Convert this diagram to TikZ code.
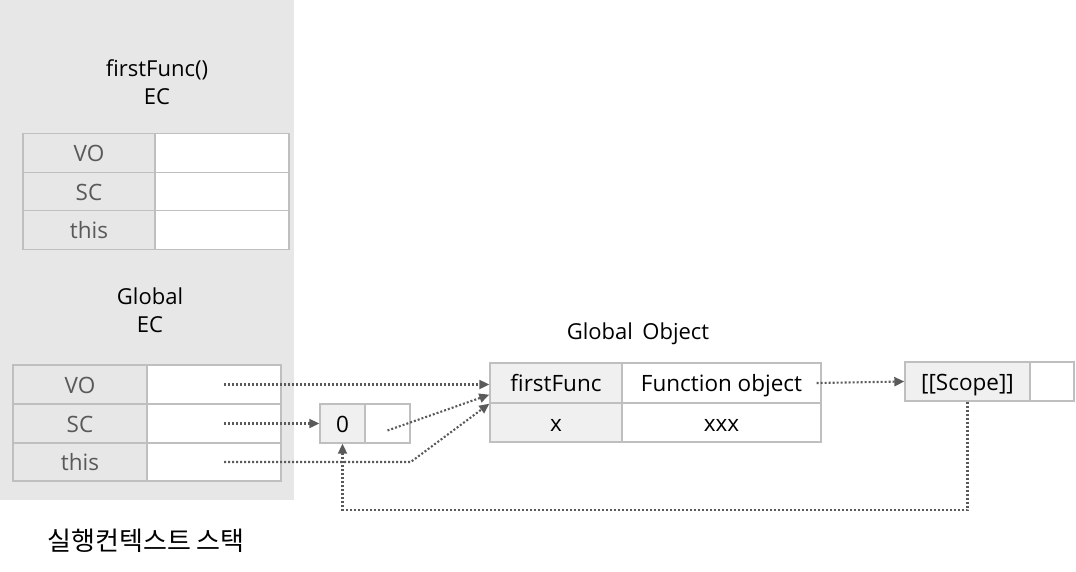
\documentclass[tikz,border=0pt]{standalone}
\usepackage{fontspec}
\setmainfont{Open Sans}
\newfontfamily\krfont{Noto Sans CJK KR}
\usetikzlibrary{arrows.meta}
\definecolor{bggray}{HTML}{E7E7E7}
\definecolor{lightcell}{HTML}{F0F0F0}
\definecolor{cellborder}{HTML}{BFBFBF}
\definecolor{labelgray}{HTML}{595959}
\definecolor{arrowgray}{HTML}{5A5A5A}
\begin{document}
\begin{tikzpicture}[x=1pt,y=-1pt,
  cell/.style={draw=cellborder, line width=1.4pt, inner sep=0pt, text height=19pt, text depth=2pt,
    font=\fontsize{22.5}{26}\selectfont},
  ecl/.style={cell, fill=bggray, text=labelgray},
  ecr/.style={cell, fill=white},
  gol/.style={cell, fill=lightcell, text=black},
  gor/.style={cell, fill=white, text=black},
  title/.style={align=center, font=\fontsize{22}{28}\selectfont, text=black, inner sep=0pt},
  ptr/.style={draw=arrowgray, line width=2.1pt, dash pattern=on 2pt off 2pt,
    -{Triangle[length=10pt,width=9pt,fill=arrowgray]}}
]
\useasboundingbox (0,0) rectangle (1076,571);
\fill[bggray] (0,0) rectangle (294,500);

% firstFunc EC
\node[title] (fftitle) at (157,82) {firstFunc()\\EC};
\node[ecl, minimum width=132pt, minimum height=38.5pt] (fVOl) at (89,153) {VO};
\node[ecr, minimum width=134pt, minimum height=38.5pt] (fVOv) at (222,153) {};
\node[ecl, minimum width=132pt, minimum height=38.5pt] (fSCl) at (89,191.5) {SC};
\node[ecr, minimum width=134pt, minimum height=38.5pt] (fSCv) at (222,191.5) {};
\node[ecl, minimum width=132pt, minimum height=38.5pt] (fthl) at (89,230) {this};
\node[ecr, minimum width=134pt, minimum height=38.5pt] (fthv) at (222,230) {};

% Global EC
\node[title] (gtitle) at (150,310.5) {Global\\EC};
\node[ecl, minimum width=134pt, minimum height=39pt] (gVOl) at (80,384.5) {VO};
\node[ecr, minimum width=134pt, minimum height=39pt] (gVOv) at (214,384.5) {};
\node[ecl, minimum width=134pt, minimum height=39pt] (gSCl) at (80,423.5) {SC};
\node[ecr, minimum width=134pt, minimum height=39pt] (gSCv) at (214,423.5) {};
\node[ecl, minimum width=134pt, minimum height=38pt] (gthl) at (80,462) {this};
\node[ecr, minimum width=134pt, minimum height=38pt] (gthv) at (214,462) {};

% scope chain list
\node[gol, minimum width=45pt, minimum height=39pt] (zl) at (342.5,423.5) {0};
\node[gor, minimum width=45pt, minimum height=39pt] (zr) at (387.5,423.5) {};

% Global Object
\node[title, text height=16pt, text depth=5pt] (gotitle) at (638,334) {Global\ \,Object};
\node[gol, minimum width=132pt, minimum height=40pt] (gofl) at (556,383) {firstFunc};
\node[gor, minimum width=199pt, minimum height=40pt] (gofr) at (721.5,383) {Function object};
\node[gol, minimum width=132pt, minimum height=39pt] (goxl) at (556,422.5) {x};
\node[gor, minimum width=199pt, minimum height=39pt] (goxr) at (721.5,422.5) {xxx};

% [[Scope]]
\node[gol, minimum width=125pt, minimum height=39pt] (scL) at (967.5,381.5) {[[Scope]]};
\node[gor, minimum width=44pt, minimum height=39pt] (scR) at (1052,381.5) {};

% caption
\node[inner sep=0pt, font=\krfont\fontsize{26}{28}\selectfont] (cap) at (146,541) {실행컨텍스트 스택};

% connectors
\coordinate (bot) at (0,510);
\draw[ptr] ([xshift=10pt]gVOv.center) -- (gVOv.center -| gofl.west);
\draw[ptr] ([xshift=10pt]gSCv.center) -- (zl.west);
\draw[ptr] ([yshift=-7pt]zr.center) -- ([yshift=9pt]gofl.south west);
\draw[ptr] ([xshift=10pt]gthv.center) -- (zr.east |- gthv.center) -- (gofl.south west);
\draw[ptr] ([xshift=-5pt]gofr.east) -- (scL.west);
\draw[ptr] (scL.south) -- (scL.south |- bot) -- (zl.south |- bot) -- (zl.south);
\end{tikzpicture}
\end{document}
